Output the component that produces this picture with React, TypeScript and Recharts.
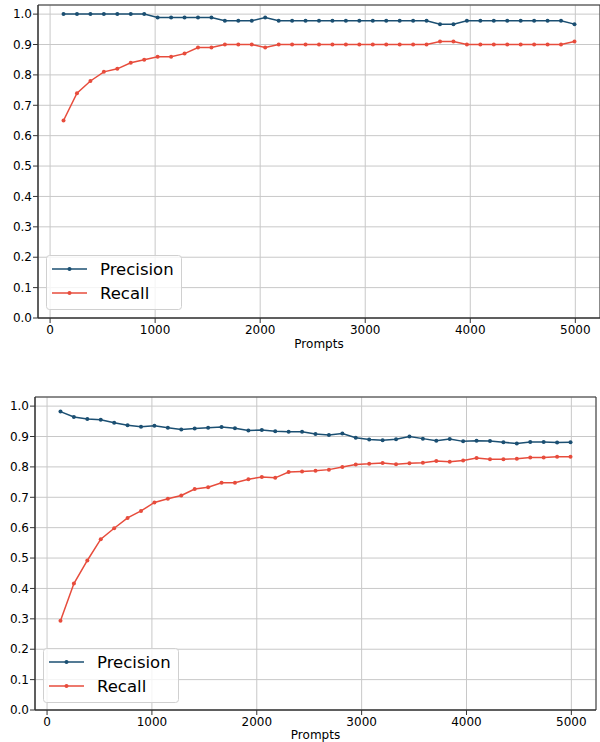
import { LineChart, Line, XAxis, YAxis, CartesianGrid, ReferenceArea } from 'recharts'

const prompts = [
    128, 256, 384, 512, 640, 768, 896, 1024, 1152, 1280, 1408, 1536, 1664,
    1792, 1920, 2048, 2176, 2304, 2432, 2560, 2688, 2816, 2944, 3072, 3200, 3328,
    3456, 3584, 3712, 3840, 3968, 4096, 4224, 4352, 4480, 4608, 4736, 4864, 4992,
]

// top panel
const topPrecision = [
    1.0, 1.0, 1.0, 1.0, 1.0, 1.0, 1.0, 0.989, 0.989, 0.989, 0.989, 0.989, 0.978,
    0.978, 0.978, 0.989, 0.978, 0.978, 0.978, 0.978, 0.978, 0.978, 0.978, 0.978, 0.978, 0.978,
    0.978, 0.978, 0.967, 0.967, 0.978, 0.978, 0.978, 0.978, 0.978, 0.978, 0.978, 0.978, 0.967,
]
const topRecall = [
    0.65, 0.74, 0.78, 0.81, 0.82, 0.84, 0.85, 0.86, 0.86, 0.87, 0.89, 0.89, 0.9,
    0.9, 0.9, 0.89, 0.9, 0.9, 0.9, 0.9, 0.9, 0.9, 0.9, 0.9, 0.9, 0.9,
    0.9, 0.9, 0.91, 0.91, 0.9, 0.9, 0.9, 0.9, 0.9, 0.9, 0.9, 0.9, 0.91,
]

// bottom panel
const bottomPrecision = [
    0.982, 0.964, 0.958, 0.955, 0.945, 0.937, 0.932, 0.935, 0.929, 0.923, 0.926, 0.929, 0.931,
    0.927, 0.92, 0.921, 0.917, 0.916, 0.916, 0.908, 0.905, 0.91, 0.896, 0.89, 0.888, 0.891,
    0.9, 0.893, 0.886, 0.892, 0.884, 0.886, 0.885, 0.881, 0.877, 0.882, 0.882, 0.88, 0.881,
]
const bottomRecall = [
    0.294, 0.416, 0.492, 0.562, 0.598, 0.632, 0.655, 0.683, 0.695, 0.706, 0.727, 0.733, 0.748,
    0.748, 0.759, 0.767, 0.764, 0.783, 0.785, 0.787, 0.791, 0.8, 0.808, 0.81, 0.813, 0.809,
    0.812, 0.814, 0.819, 0.817, 0.821, 0.829, 0.825, 0.825, 0.827, 0.831, 0.831, 0.833, 0.833,
]

const xTicks = [0, 1000, 2000, 3000, 4000, 5000]
const yTicks = [0, 0.1, 0.2, 0.3, 0.4, 0.5, 0.6, 0.7, 0.8, 0.9, 1.0]
const X_DOMAIN: [number, number] = [-115, 5235]
const Y_DOMAIN: [number, number] = [0, 1.03]

const PREC_COLOR = '#1b4f72'
const REC_COLOR = '#e74c3c'
const FONT = 'DejaVu Sans, sans-serif'
const SPINE = '#333'

interface PanelProps {
    top: number
    height: number
    margin: { top: number; right: number; left: number; bottom: number }
    yAxisWidth: number
    xAxisHeight: number
    labelOffset: number
    precision: number[]
    recall: number[]
    legendPos: { left: number; top: number }
}

function LegendBox({ left, top }: { left: number; top: number }) {
    const rows = [
        { name: 'Precision', color: PREC_COLOR, y: 14 },
        { name: 'Recall', color: REC_COLOR, y: 38 },
    ]
    return (
        <svg width={137} height={56} style={{ position: 'absolute', left, top }}>
            <rect x={0.5} y={0.5} width={135} height={54} rx={3} fill="rgba(255,255,255,0.8)" stroke="#d0d0d0" />
            {rows.map(r => (
                <g key={r.name}>
                    <line x1={6} x2={41} y1={r.y} y2={r.y} stroke={r.color} strokeWidth={1.5} />
                    <circle cx={23.5} cy={r.y} r={2} fill={r.color} />
                    <text x={54} y={r.y + 6} fontSize={16.5} fontFamily={FONT} fill="#000">{r.name}</text>
                </g>
            ))}
        </svg>
    )
}

function Panel(props: PanelProps) {
    const data = prompts.map((p, i) => ({ prompt: p, precision: props.precision[i], recall: props.recall[i] }))
    return (
        <div style={{ position: 'absolute', left: 0, top: props.top, width: 600, height: props.height }}>
            <LineChart width={600} height={props.height} data={data} margin={props.margin}>
                <CartesianGrid stroke="#c8c8c8" strokeWidth={1} />
                <XAxis
                    dataKey="prompt"
                    type="number"
                    domain={X_DOMAIN}
                    ticks={xTicks}
                    height={props.xAxisHeight}
                    tickSize={5}
                    tickMargin={2}
                    axisLine={{ stroke: SPINE }}
                    tickLine={{ stroke: SPINE }}
                    tick={{ fontSize: 12, fontFamily: FONT, fill: '#000' }}
                    label={{ value: 'Prompts', position: 'insideBottom', offset: props.labelOffset, fontSize: 12, fontFamily: FONT, fill: '#000' }}
                />
                <YAxis
                    type="number"
                    domain={Y_DOMAIN}
                    ticks={yTicks}
                    width={props.yAxisWidth}
                    tickSize={5}
                    tickMargin={1}
                    axisLine={{ stroke: SPINE }}
                    tickLine={{ stroke: SPINE }}
                    tickFormatter={(v: number) => v.toFixed(1)}
                    tick={{ fontSize: 12, fontFamily: FONT, fill: '#000' }}
                />
                <ReferenceArea x1={X_DOMAIN[0]} x2={X_DOMAIN[1]} y1={Y_DOMAIN[0]} y2={Y_DOMAIN[1]} fill="none" fillOpacity={0} stroke={SPINE} strokeWidth={1} />
                <Line
                    type="linear"
                    dataKey="precision"
                    stroke={PREC_COLOR}
                    strokeWidth={1.5}
                    dot={{ r: 2, fill: PREC_COLOR, stroke: PREC_COLOR, strokeWidth: 0 }}
                    isAnimationActive={false}
                />
                <Line
                    type="linear"
                    dataKey="recall"
                    stroke={REC_COLOR}
                    strokeWidth={1.5}
                    dot={{ r: 2, fill: REC_COLOR, stroke: REC_COLOR, strokeWidth: 0 }}
                    isAnimationActive={false}
                />
            </LineChart>
            <LegendBox left={props.legendPos.left} top={props.legendPos.top} />
        </div>
    )
}

export default function App() {
    return (
        <div style={{ position: 'absolute', left: 0, top: 0, width: 600, height: 742, background: '#fff', overflow: 'hidden' }}>
            <Panel
                top={0}
                height={360}
                margin={{ top: 5, right: 0, left: 0, bottom: 0 }}
                yAxisWidth={38}
                xAxisHeight={42}
                labelOffset={12}
                precision={topPrecision}
                recall={topRecall}
                legendPos={{ left: 46, top: 255 }}
            />
            <Panel
                top={360}
                height={382}
                margin={{ top: 37, right: 4, left: 0, bottom: 0 }}
                yAxisWidth={35}
                xAxisHeight={32}
                labelOffset={3}
                precision={bottomPrecision}
                recall={bottomRecall}
                legendPos={{ left: 43, top: 288 }}
            />
        </div>
    )
}
